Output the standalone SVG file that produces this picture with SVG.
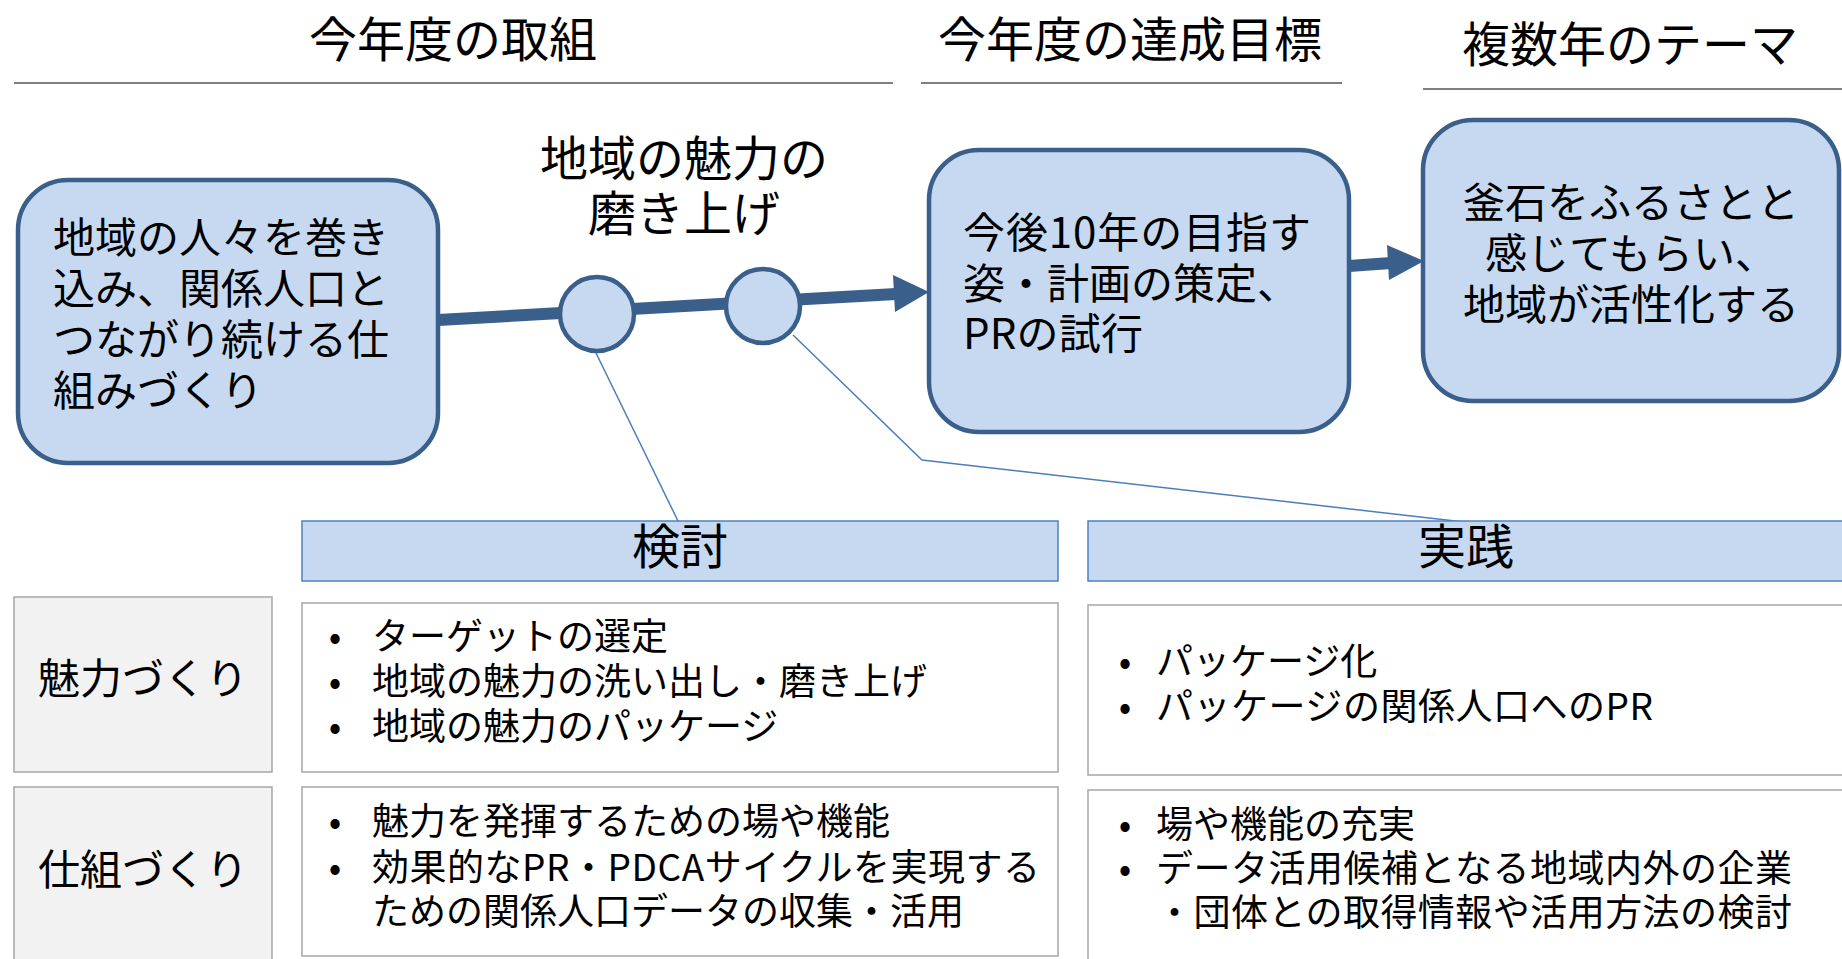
<svg xmlns="http://www.w3.org/2000/svg" width="1842" height="959" viewBox="0 0 1842 959">
<style>
text{font-family:"Noto Sans CJK JP","Noto Sans",sans-serif;fill:#000}
.title{font-size:48px;text-anchor:middle}
.rule{stroke:#7f7f7f;stroke-width:2}
.node{fill:#c6d9f1;stroke:#3a5f8b;stroke-width:4.5}
.big{font-size:42px}
.ctr{text-anchor:middle}
.hdr{fill:#c6d9f1;stroke:#4f81bd;stroke-width:1.5}
.lbl{fill:#f2f2f2;stroke:#a6a6a6;stroke-width:1.5}
.cnt{fill:#ffffff;stroke:#a6a6a6;stroke-width:1.5}
.li{font-size:37px}
.bul{font-size:37px;text-anchor:middle}
.thick{stroke:#3a5f8b;stroke-width:12;fill:none}
.ahead{fill:#3a5f8b}
.thin{stroke:#4a7ebb;stroke-width:1.5;fill:none}
</style>
<rect width="1842" height="959" fill="#ffffff"/>

<g id="headings">
<text class="title" x="453" y="57">今年度の取組</text>
<line class="rule" x1="14" y1="83" x2="893" y2="83"/>
<text class="title" x="1130" y="57">今年度の達成目標</text>
<line class="rule" x1="921" y1="83" x2="1342" y2="83"/>
<text class="title" x="1630" y="62">複数年のテーマ</text>
<line class="rule" x1="1423" y1="89" x2="1842" y2="89"/>
</g>

<g id="connectors">
<line class="thick" x1="438" y1="320" x2="896" y2="294"/>
<polygon class="ahead" points="893,275 929,292 895,312"/>
<line class="thick" x1="1349" y1="266" x2="1391" y2="263"/>
<polygon class="ahead" points="1387,245 1424,261 1389,280"/>
<polyline class="thin" points="596,353 678,521"/>
<polyline class="thin" points="793,335 922,460 1464,522"/>
</g>

<g id="node-start">
<rect class="node" x="18" y="180" width="420" height="283" rx="50" ry="50"/>
<text class="big" x="53" y="253">地域の人々を巻き</text>
<text class="big" x="53" y="304">込み、関係人口と</text>
<text class="big" x="53" y="355">つながり続ける仕</text>
<text class="big" x="53" y="406">組みづくり</text>
</g>

<g id="milestone-label">
<text class="title" x="684" y="176">地域の魅力の</text>
<text class="title" x="684" y="231">磨き上げ</text>
</g>

<g id="milestone-1">
<circle class="node" cx="597" cy="314" r="37"/>
</g>
<g id="milestone-2">
<circle class="node" cx="763" cy="306" r="37"/>
</g>

<g id="node-goal">
<rect class="node" x="929" y="150" width="420" height="282" rx="50" ry="50"/>
<text class="big" x="963" y="248" textLength="348" lengthAdjust="spacing">今後10年の目指す</text>
<text class="big" x="963" y="299">姿・計画の策定、</text>
<text class="big" x="963" y="349" textLength="180" lengthAdjust="spacing">PRの試行</text>
</g>

<g id="node-theme">
<rect class="node" x="1423" y="120" width="416" height="281" rx="50" ry="50"/>
<text class="big ctr" x="1631" y="218">釜石をふるさとと</text>
<text class="big ctr" x="1631" y="269">感じてもらい、</text>
<text class="big ctr" x="1631" y="320">地域が活性化する</text>
</g>

<g id="header-kento">
<rect class="hdr" x="302" y="521" width="756" height="60"/>
<text class="title" x="680" y="564">検討</text>
</g>

<g id="header-jissen">
<rect class="hdr" x="1088" y="521" width="770" height="60"/>
<text class="title" x="1466" y="564">実践</text>
</g>

<g id="label-miryoku">
<rect class="lbl" x="14" y="597" width="258" height="175"/>
<text class="big ctr" x="143" y="694">魅力づくり</text>
</g>

<g id="label-shikumi">
<rect class="lbl" x="14" y="787" width="258" height="190"/>
<text class="big ctr" x="143" y="885">仕組づくり</text>
</g>

<g id="cell-kento-miryoku">
<rect class="cnt" x="302" y="603" width="756" height="169"/>
<text class="bul" x="335" y="650">•</text>
<text class="li" x="372" y="650">ターゲットの選定</text>
<text class="bul" x="335" y="695">•</text>
<text class="li" x="372" y="695">地域の魅力の洗い出し・磨き上げ</text>
<text class="bul" x="335" y="740">•</text>
<text class="li" x="372" y="740">地域の魅力のパッケージ</text>
</g>

<g id="cell-kento-shikumi">
<rect class="cnt" x="302" y="787" width="756" height="169"/>
<text class="bul" x="335" y="835">•</text>
<text class="li" x="372" y="835">魅力を発揮するための場や機能</text>
<text class="bul" x="335" y="881">•</text>
<text class="li" x="372" y="881" textLength="668" lengthAdjust="spacing">効果的なPR・PDCAサイクルを実現する</text>
<text class="li" x="372" y="925">ための関係人口データの収集・活用</text>
</g>

<g id="cell-jissen-miryoku">
<rect class="cnt" x="1088" y="605" width="770" height="170"/>
<text class="bul" x="1125" y="675">•</text>
<text class="li" x="1156" y="675">パッケージ化</text>
<text class="bul" x="1125" y="720">•</text>
<text class="li" x="1156" y="720" textLength="497" lengthAdjust="spacing">パッケージの関係人口へのPR</text>
</g>

<g id="cell-jissen-shikumi">
<rect class="cnt" x="1088" y="790" width="770" height="200"/>
<text class="bul" x="1125" y="838">•</text>
<text class="li" x="1156" y="838">場や機能の充実</text>
<text class="bul" x="1125" y="882">•</text>
<text class="li" x="1156" y="882" textLength="636" lengthAdjust="spacing">データ活用候補となる地域内外の企業</text>
<text class="li" x="1156" y="926" textLength="636" lengthAdjust="spacing">・団体との取得情報や活用方法の検討</text>
</g>
</svg>
